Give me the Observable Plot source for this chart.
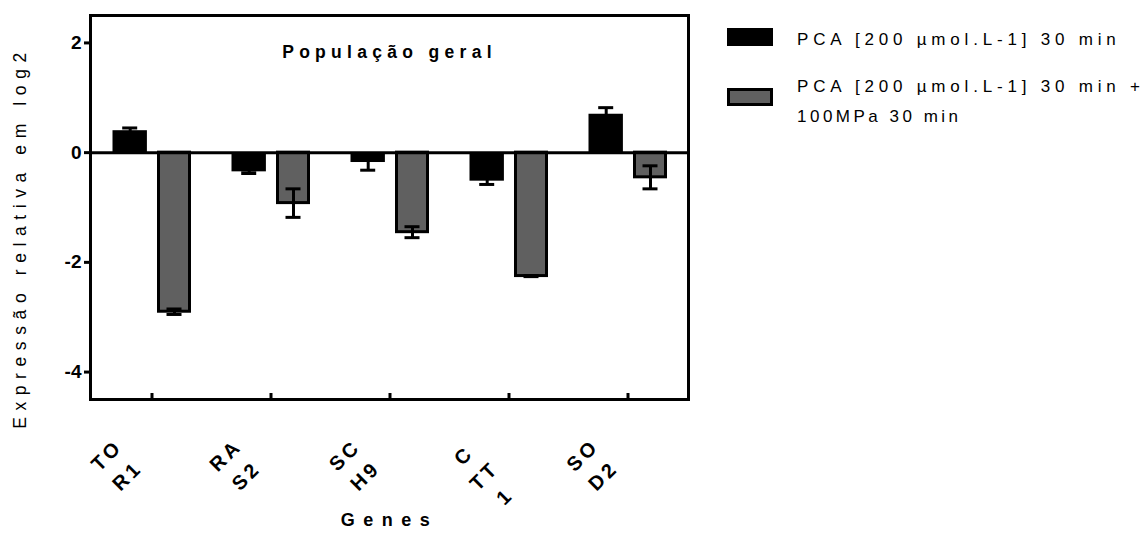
<!DOCTYPE html>
<html>
<head>
<meta charset="utf-8">
<script src="https://cdn.jsdelivr.net/npm/d3@7"></script>
<script src="https://cdn.jsdelivr.net/npm/@observablehq/plot@0.6"></script>
<style>
  body { margin: 0; background: #fff; }
  #wrap { position: relative; width: 1148px; height: 537px; font-family: "Liberation Sans", Arial, sans-serif; color: #000; }
  #wrap svg { position: absolute; left: 0; top: 0; }
  .sw { position: absolute; left: 727px; width: 46px; height: 18px; box-sizing: border-box; }
  .lt { position: absolute; left: 797px; font-size: 17px; line-height: 30px; white-space: nowrap; letter-spacing: 4.8px; }
</style>
</head>
<body>
<div id="wrap"></div>
<script>
const genes = ["TOR1", "RAS2", "SCH9", "CTT1", "SOD2"];
const geneTickLabels = ["TO\nR1", "RA\nS2", "SC\nH9", "C\nTT\n1", "SO\nD2"];
const seriesNames = ["PCA [200 µmol.L-1] 30 min", "PCA [200 µmol.L-1] 30 min +", "100MPa 30 min"];
const pcaValues = [0.40, -0.35, -0.18, -0.52, 0.70];
const pcaErrors = [0.05, 0.03, 0.14, 0.06, 0.12];
const hpValues = [-2.90, -0.92, -1.45, -2.25, -0.45];
const hpErrors = [0.05, 0.26, 0.10, 0.01, 0.21];
const yTicks = [-4, -2, 0, 2];
const panelTitle = "População geral";
const xTitle = "Genes";
const yTitle = "Expressão relativa em log2";

const BLACK = "#000000";
const GREY = "#606060";

const pca = genes.map((g, i) => ({gene: g, value: pcaValues[i], err: pcaErrors[i]}));
const hp = genes.map((g, i) => ({gene: g, value: hpValues[i], err: hpErrors[i]}));
const geneLabels = genes.map((g, i) => ({gene: g, label: geneTickLabels[i]}));

const chart = Plot.plot({
  width: 1148,
  height: 537,
  marginLeft: 90,
  marginRight: 460,
  marginTop: 15,
  marginBottom: 138,
  style: {fontFamily: '"Liberation Sans", Arial, sans-serif', fontSize: "18px", color: "#000", background: "transparent", overflow: "visible"},
  x: {type: "band", domain: genes, padding: 0, axis: null},
  y: {domain: [-4.5, 2.5], axis: null},
  marks: [
    Plot.barY(pca, {x: "gene", y1: 0, y2: "value", fill: BLACK, insetLeft: 20.5, insetRight: 64.1}),
    Plot.barY(hp, {x: "gene", y1: 0, y2: "value", fill: GREY, stroke: BLACK, strokeWidth: 3, insetLeft: 66.5, insetRight: 21.5}),
    Plot.ruleX(pca, {x: "gene", y1: d => d.value - d.err, y2: d => d.value + d.err, dx: -21.8, stroke: BLACK, strokeWidth: 3}),
    Plot.tickY(pca, {x: "gene", y: d => d.value + d.err, dx: -21.8, inset: 52, stroke: BLACK, strokeWidth: 3}),
    Plot.tickY(pca, {x: "gene", y: d => d.value - d.err, dx: -21.8, inset: 52, stroke: BLACK, strokeWidth: 3}),
    Plot.ruleX(hp, {x: "gene", y1: d => d.value - d.err, y2: d => d.value + d.err, dx: 22.5, stroke: BLACK, strokeWidth: 3}),
    Plot.tickY(hp, {x: "gene", y: d => d.value + d.err, dx: 22.5, inset: 52, stroke: BLACK, strokeWidth: 3}),
    Plot.tickY(hp, {x: "gene", y: d => d.value - d.err, dx: 22.5, inset: 52, stroke: BLACK, strokeWidth: 3}),
    Plot.ruleY([0], {stroke: BLACK, strokeWidth: 3}),
    Plot.axisY({ticks: yTicks, tickSize: 6, tickPadding: 3, strokeWidth: 3, fontSize: 19, fontWeight: "bold", tickFormat: d => String(d), label: null}),
    Plot.axisX({tickSize: 6, dy: -6, strokeWidth: 3, tickFormat: () => "", label: null}),
    Plot.text(geneLabels, {x: "gene", text: "label", frameAnchor: "bottom", rotate: -45, textAnchor: "middle", lineAnchor: "top", lineHeight: 1.45, dx: -55, dy: 46, fontSize: 20, fontWeight: "bold"}),
    Plot.text([panelTitle], {text: d => d, frameAnchor: "top", dy: 30, fontSize: 17.5, fontWeight: "bold"}),
    Plot.text([xTitle], {text: d => d, frameAnchor: "bottom", dy: 126, fontSize: 18, fontWeight: "bold"}),
    Plot.text([yTitle], {text: d => d, frameAnchor: "left", textAnchor: "middle", rotate: -90, dx: -70, dy: 30, fontSize: 17.5}),
    Plot.frame({stroke: BLACK, strokeWidth: 3})
  ]
});

// letter spacing to mimic the spaced-out lettering of the original export
const spacing = new Map([[panelTitle, "5.3px"], [xTitle, "8.5px"], [yTitle, "6.6px"]]);
const labelLines = new Set(geneTickLabels.flatMap(s => s.split("\n")));
chart.querySelectorAll("text").forEach(t => {
  const s = t.textContent;
  if (spacing.has(s)) t.style.letterSpacing = spacing.get(s);
});
chart.querySelectorAll("tspan, text").forEach(t => {
  if (labelLines.has(t.textContent) && !t.closest("g[aria-label='y-axis tick label']")) t.style.letterSpacing = "3.5px";
});

const wrap = document.getElementById("wrap");
wrap.appendChild(chart);

function addDiv(cls, styles, text) {
  const d = document.createElement("div");
  d.className = cls;
  Object.assign(d.style, styles);
  if (text) d.textContent = text;
  wrap.appendChild(d);
}
addDiv("sw", {top: "28px", background: BLACK});
addDiv("sw", {top: "88px", background: GREY, border: "3px solid " + BLACK});
addDiv("lt", {top: "25px"}, seriesNames[0]);
addDiv("lt", {top: "72px"}, seriesNames[1]);
addDiv("lt", {top: "102px", letterSpacing: "3.5px"}, seriesNames[2]);
</script>
</body>
</html>
